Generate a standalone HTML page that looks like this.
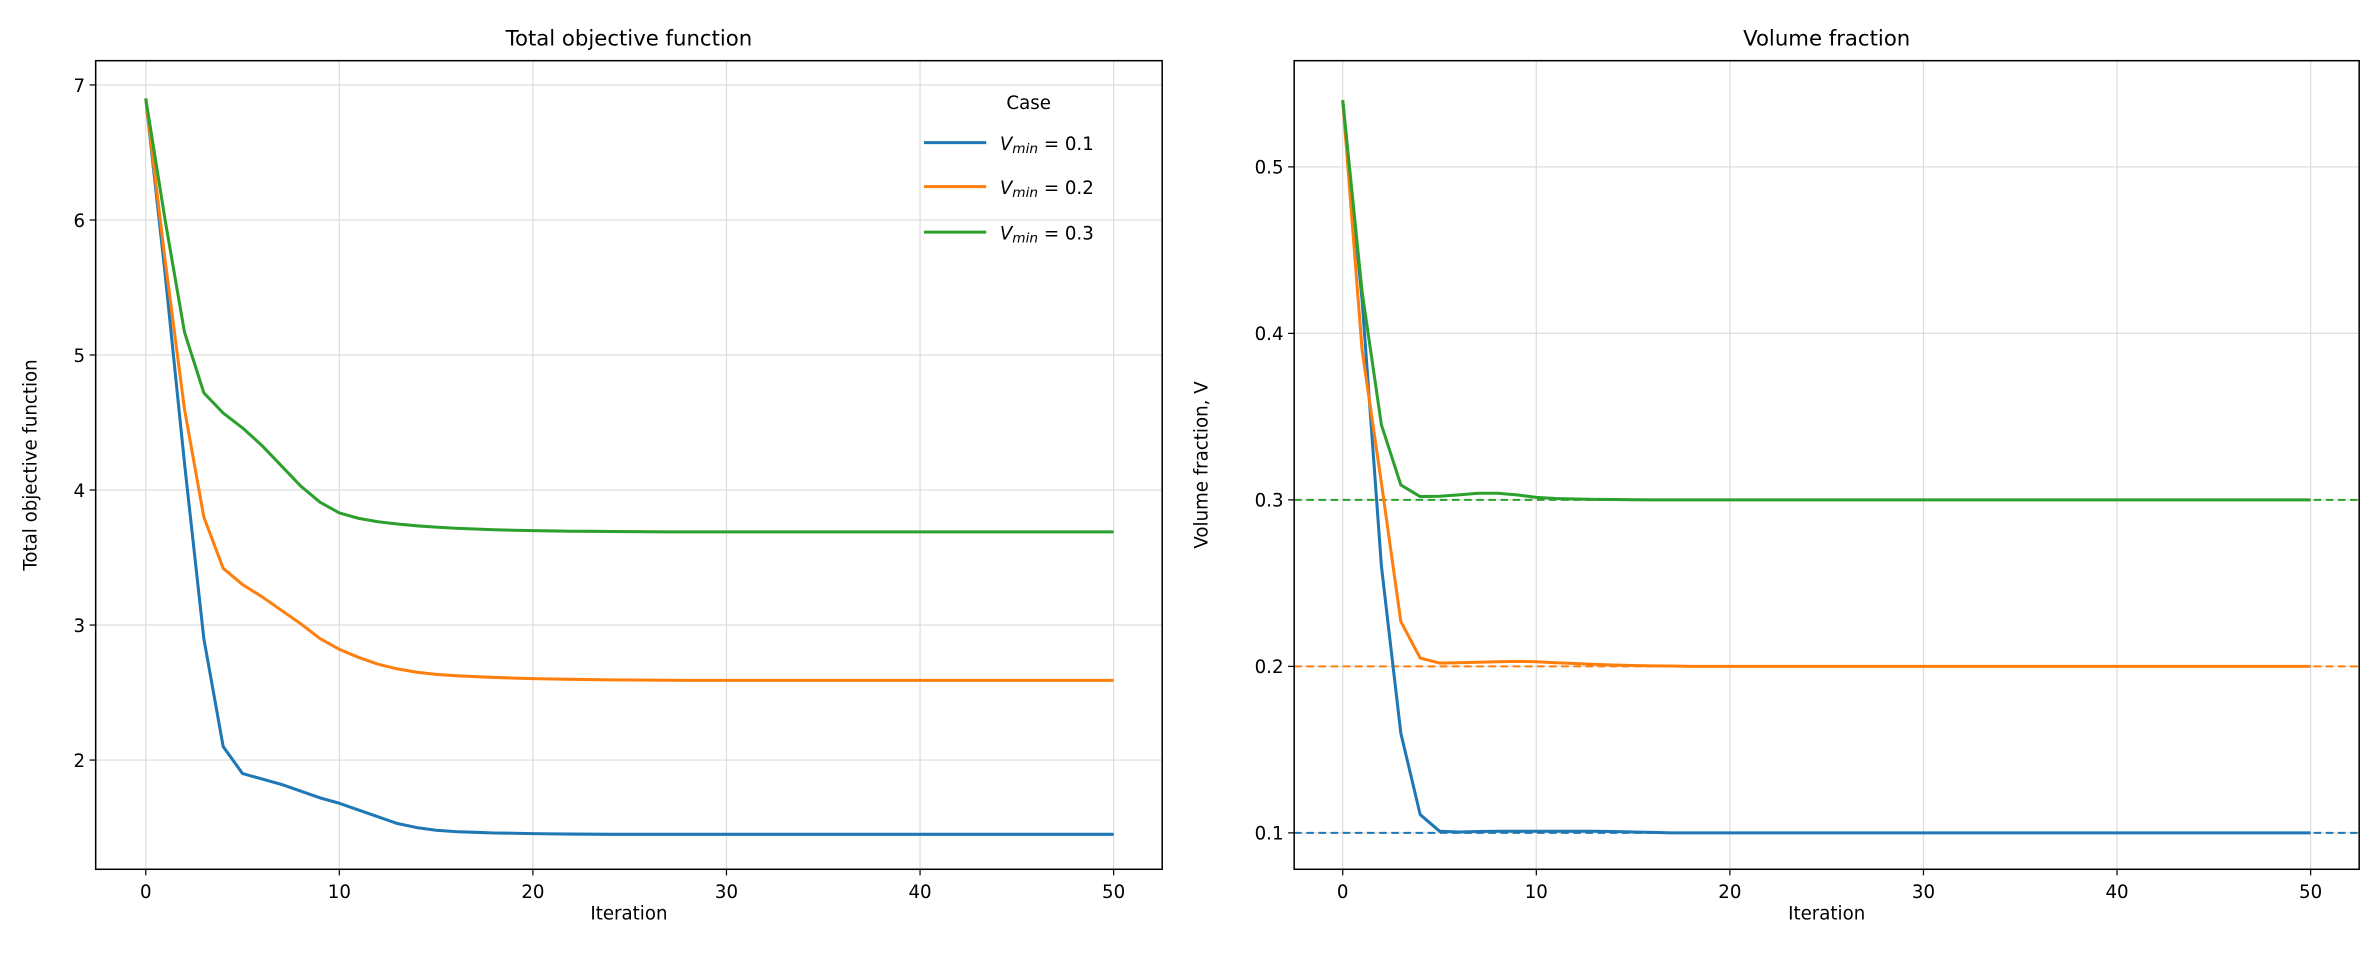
<!DOCTYPE html>
<html><head><meta charset="utf-8"><style>
html,body{margin:0;padding:0;background:#fff}
svg{display:block}
text{font-family:"DejaVu Sans","Liberation Sans",sans-serif;fill:#000}
</style></head><body>
<svg id="s" width="2379" height="977" viewBox="0 0 1568 644" xmlns="http://www.w3.org/2000/svg">
<rect width="1568" height="644" fill="#fff"/>
<g id="g"></g>
</svg>
<script>
const NS="http://www.w3.org/2000/svg";const g=document.getElementById('g');
function el(t,a,txt){const e=document.createElementNS(NS,t);for(const k in a)e.setAttribute(k,a[k]);if(txt!==undefined)e.textContent=txt;g.appendChild(e);return e;}
function tail(arr,n,v){while(arr.length<=n)arr.push(v);return arr;}
const C={b:'#1f77b4',o:'#ff7f0e',g:'#2ca02c'};
// Left
const L={x0:63,x1:766,y0:40,y1:573,xs:v=>96+v*12.76,ys:v=>56+(7-v)*89};
const R={x0:853,x1:1555,y0:40,y1:573,xs:v=>885+v*12.76,ys:v=>549-(v-0.1)*1097.5};
function axes(A,xt,yt,yfmt,title,ylabel){
 for(const t of xt){const x=A.xs(t);el('line',{x1:x,x2:x,y1:A.y0,y2:A.y1,stroke:'#ddd','stroke-width':0.8});}
 for(const t of yt){const y=A.ys(t);el('line',{x1:A.x0,x2:A.x1,y1:y,y2:y,stroke:'#ddd','stroke-width':0.8});}
}
function frame(A,xt,yt,yfmt,title,ylabel){
 el('rect',{x:A.x0,y:A.y0,width:A.x1-A.x0,height:A.y1-A.y0,fill:'none',stroke:'#000','stroke-width':1});
 for(const t of xt){const x=A.xs(t);el('line',{x1:x,x2:x,y1:A.y1,y2:A.y1+4,stroke:'#000','stroke-width':0.8});el('text',{x:x,y:A.y1+19,'text-anchor':'middle','font-size':12},String(t));}
 for(const t of yt){const y=A.ys(t);el('line',{x1:A.x0-4,x2:A.x0,y1:y,y2:y,stroke:'#000','stroke-width':0.8});el('text',{x:A.x0-7,y:y+4.5,'text-anchor':'end','font-size':12},yfmt(t));}
 el('text',{x:(A.x0+A.x1)/2,y:A.y1+33,'text-anchor':'middle','font-size':12},'Iteration');
 el('text',{x:(A.x0+A.x1)/2,y:A.y0-10,'text-anchor':'middle','font-size':14},title);
 const lx=A.x0===63?24:796;const cy=(A.y0+A.y1)/2;
 el('text',{x:lx,y:cy,'text-anchor':'middle','font-size':12,transform:`rotate(-90 ${lx} ${cy})`},ylabel);
}
function line(A,d,c,extra){let p='';d.forEach((v,i)=>{p+=(i?'L':'M')+A.xs(i).toFixed(2)+','+A.ys(v).toFixed(2);});
 const a={d:p,fill:'none',stroke:c,'stroke-width':2,'stroke-linejoin':'round'};Object.assign(a,extra||{});el('path',a);}
const xt=[0,10,20,30,40,50];
axes(L,xt,[2,3,4,5,6,7]);
axes(R,xt,[0.1,0.2,0.3,0.4,0.5]);
// left data
let lb=[6.9,5.6,4.2,2.9,2.1,1.9,1.86,1.82,1.77,1.72,1.68,1.63,1.58,1.53,1.5,1.48,1.47,1.465,1.46,1.458,1.455,1.453,1.452,1.451];tail(lb,50,1.45);
let lo=[6.9,5.7,4.6,3.8,3.42,3.3,3.21,3.11,3.01,2.9,2.82,2.76,2.71,2.675,2.65,2.635,2.625,2.618,2.612,2.607,2.603,2.6,2.598,2.596,2.594,2.593,2.592,2.591];tail(lo,50,2.59);
let lg=[6.9,6.0,5.17,4.72,4.57,4.46,4.33,4.18,4.03,3.91,3.83,3.79,3.765,3.748,3.735,3.725,3.717,3.711,3.706,3.702,3.699,3.697,3.695,3.694,3.693,3.692,3.691];tail(lg,50,3.69);
line(L,lb,C.b);line(L,lo,C.o);line(L,lg,C.g);
// right dashed
for(const [v,c] of [[0.1,C.b],[0.2,C.o],[0.3,C.g]]){const y=R.ys(v);el('line',{x1:R.x0,x2:R.x1,y1:y,y2:y,stroke:c,'stroke-width':1.3,'stroke-dasharray':'5,3'});}
let rb=[0.54,0.42,0.26,0.16,0.111,0.101,0.1005,0.1008,0.101,0.101,0.101,0.101,0.101,0.101,0.1008,0.1005,0.1003];tail(rb,50,0.1);
let ro=[0.54,0.39,0.31,0.227,0.205,0.202,0.2022,0.2025,0.2028,0.203,0.2028,0.2022,0.2017,0.2012,0.2008,0.2005,0.2003,0.2002];tail(ro,50,0.2);
let rg=[0.54,0.425,0.345,0.309,0.302,0.3022,0.303,0.304,0.304,0.303,0.3015,0.3008,0.3005,0.3003,0.3002,0.3001];tail(rg,50,0.3);
line(R,rb,C.b);line(R,ro,C.o);line(R,rg,C.g);
frame(L,xt,[2,3,4,5,6,7],t=>String(t),'Total objective function','Total objective function');
frame(R,xt,[0.1,0.2,0.3,0.4,0.5],t=>t.toFixed(1),'Volume fraction','Volume fraction, V');
// legend
el('text',{x:678,y:72,'text-anchor':'middle','font-size':12},'Case');
[[94,C.b,'0.1'],[122,C.o,'0.2'],[154,C.g,'0.3']].forEach(([y,c,v],i)=>{
 y=[94,123,153][i];
 el('line',{x1:609,x2:650,y1:y,y2:y,stroke:c,'stroke-width':2});
 const t=el('text',{x:659,y:y+5,'font-size':12});
 const a=document.createElementNS(NS,'tspan');a.setAttribute('font-style','italic');a.textContent='V';t.appendChild(a);
 const b=document.createElementNS(NS,'tspan');b.setAttribute('font-style','italic');b.setAttribute('font-size','9');b.setAttribute('dy','2');b.textContent='min';t.appendChild(b);
 const c2=document.createElementNS(NS,'tspan');c2.setAttribute('dy','-2');c2.textContent=' = '+v;t.appendChild(c2);
});
</script>
</body></html>
